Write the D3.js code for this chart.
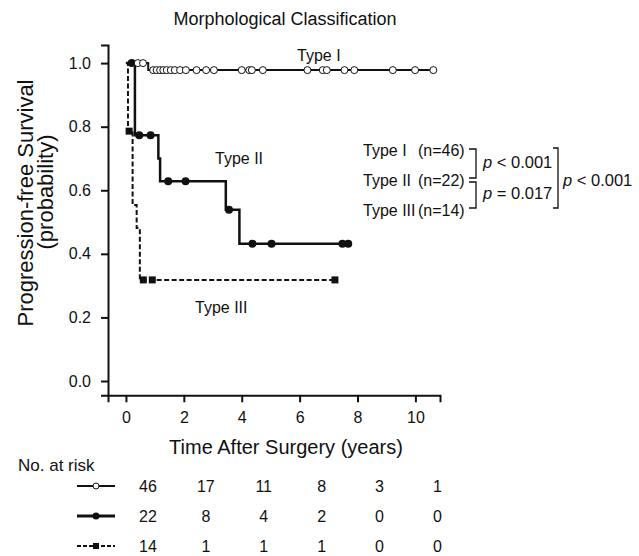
<!DOCTYPE html>
<html>
<head>
<meta charset="utf-8">
<script src="https://cdn.jsdelivr.net/npm/d3@7"></script>
<style>
  body { margin: 0; background: #fff; }
  svg text { font-family: "Liberation Sans", Arial, sans-serif; fill: #111; }
</style>
</head>
<body>
<div id="chart"></div>
<script>
// Kaplan-Meier steps
var typeITime = [0, 0.77, 10.62];
var typeISurv = [1.0, 0.978, 0.978];
var typeICensor = [0.41, 0.59, 0.94, 1.06, 1.18, 1.29, 1.41, 1.55, 1.69, 1.87, 2.07, 2.44, 2.77, 3.04,
                   4.0, 4.26, 4.35, 4.73, 6.27, 6.8, 6.94, 7.55, 7.89, 9.22, 9.99, 10.62];

var typeIITime = [0, 0.31, 1.12, 1.18, 3.45, 3.92, 7.68];
var typeIISurv = [1.0, 0.773, 0.70, 0.628, 0.539, 0.432, 0.432];
var typeIICensor = [0.2, 0.46, 0.85, 1.46, 2.06, 3.56, 4.37, 5.03, 7.48, 7.68];

var typeIIITime = [0, 0.07, 0.23, 0.37, 0.48, 7.22];
var typeIIISurv = [1.0, 0.786, 0.554, 0.481, 0.318, 0.318];
var typeIIICensor = [0.11, 0.6, 0.91, 7.22];

// number at risk table
var riskTimes = [0, 2, 4, 6, 8, 10];
var riskI = [46, 17, 11, 8, 3, 1];
var riskII = [22, 8, 4, 2, 0, 0];
var riskIII = [14, 1, 1, 1, 0, 0];

var xTicks = [0, 2, 4, 6, 8, 10];
var yTicks = [0, 0.2, 0.4, 0.6, 0.8, 1.0];

var W = 639, H = 556;

var svg = d3.select("#chart").append("svg")
  .attr("width", W).attr("height", H);

var x = d3.scaleLinear().domain([-0.62, 10.85]).range([108, 440]);
var y = d3.scaleLinear().domain([-0.045, 1.057]).range([395.3, 45]);

// axes
var xAxis = svg.append("g")
  .attr("transform", "translate(0," + y(-0.045) + ")")
  .call(d3.axisBottom(x).tickValues(xTicks).tickFormat(d3.format("d")).tickSizeOuter(0).tickSize(7).tickPadding(9));
var yAxis = svg.append("g")
  .attr("transform", "translate(" + x(-0.62) + ",0)")
  .call(d3.axisLeft(y).tickValues(yTicks).tickFormat(d3.format(".1f")).tickSizeOuter(0).tickSize(7).tickPadding(10));

[xAxis, yAxis].forEach(function(a) {
  a.select(".domain").attr("stroke", "#111").attr("stroke-width", 2);
  a.selectAll(".tick line").attr("stroke", "#111").attr("stroke-width", 2);
  a.selectAll(".tick text").attr("font-size", 16).attr("font-family", "Liberation Sans, Arial, sans-serif").attr("fill", "#111");
});

function survAt(times, surv, t) {
  var v = surv[0];
  for (var i = 0; i < times.length; i++) { if (times[i] <= t) v = surv[i]; }
  return v;
}

var line = d3.line()
  .x(function(d) { return x(d[0]); })
  .y(function(d) { return y(d[1]); })
  .curve(d3.curveStepAfter);

function pts(times, surv) { return times.map(function(t, i) { return [t, surv[i]]; }); }

// Type III dashed
svg.append("path")
  .datum(pts(typeIIITime, typeIIISurv))
  .attr("d", line)
  .attr("fill", "none").attr("stroke", "#111").attr("stroke-width", 2)
  .attr("stroke-dasharray", "5,2.5");
svg.selectAll("rect.c3")
  .data(typeIIICensor).enter().append("rect")
  .attr("class", "c3")
  .attr("x", function(d) { return x(d) - 3.5; })
  .attr("y", function(d) { return y(survAt(typeIIITime, typeIIISurv, d)) - 3.5; })
  .attr("width", 7).attr("height", 7)
  .attr("fill", "#111");

// Type II
svg.append("path")
  .datum(pts(typeIITime, typeIISurv))
  .attr("d", line)
  .attr("fill", "none").attr("stroke", "#111").attr("stroke-width", 2.5);
svg.selectAll("circle.c2")
  .data(typeIICensor).enter().append("circle")
  .attr("class", "c2")
  .attr("cx", function(d) { return x(d); })
  .attr("cy", function(d) { return y(survAt(typeIITime, typeIISurv, d)); })
  .attr("r", 4)
  .attr("fill", "#111");

// Type I
svg.append("path")
  .datum(pts(typeITime, typeISurv))
  .attr("d", line)
  .attr("fill", "none").attr("stroke", "#111").attr("stroke-width", 2);
svg.selectAll("circle.c1")
  .data(typeICensor).enter().append("circle")
  .attr("class", "c1")
  .attr("cx", function(d) { return x(d); })
  .attr("cy", function(d) { return y(survAt(typeITime, typeISurv, d)); })
  .attr("r", 3.5)
  .attr("fill", "#fff").attr("stroke", "#111").attr("stroke-width", 1);

// labels
svg.append("text").attr("x", 285).attr("y", 25).attr("text-anchor", "middle")
  .attr("font-size", 18).text("Morphological Classification");

svg.append("text").attr("transform", "translate(33,203) rotate(-90)").attr("text-anchor", "middle")
  .attr("font-size", 22).text("Progression-free Survival");
svg.append("text").attr("transform", "translate(53,192) rotate(-90)").attr("text-anchor", "middle")
  .attr("font-size", 22).text("(probability)");

svg.append("text").attr("x", 286).attr("y", 454).attr("text-anchor", "middle")
  .attr("font-size", 20).text("Time After Surgery (years)");

svg.append("text").attr("x", 297).attr("y", 61).attr("font-size", 16).text("Type I");
svg.append("text").attr("x", 215).attr("y", 164).attr("font-size", 16).text("Type II");
svg.append("text").attr("x", 195).attr("y", 313).attr("font-size", 16).text("Type III");

// legend with p-values
var legNames = ["Type I", "Type II", "Type III"];
var legN = ["(n=46)", "(n=22)", "(n=14)"];
var legY = [150, 180, 210];
legNames.forEach(function(n, i) {
  svg.append("text").attr("x", 363).attr("y", legY[i] + 6).attr("font-size", 16).text(n);
  svg.append("text").attr("x", 418).attr("y", legY[i] + 6).attr("font-size", 16).text(legN[i]);
});
var br = svg.append("g").attr("stroke", "#111").attr("stroke-width", 1.3).attr("fill", "none");
br.append("path").attr("d", "M469,149H476V178H469");
br.append("path").attr("d", "M469,182H476V208H469");
br.append("path").attr("d", "M553,148H558V208H553");

function pText(xp, yp, rest) {
  var t = svg.append("text").attr("x", xp).attr("y", yp).attr("font-size", 16.5);
  t.append("tspan").attr("font-style", "italic").text("p");
  t.append("tspan").text(rest);
}
pText(483, 168, " < 0.001");
pText(483, 199, " = 0.017");
pText(563, 186, " < 0.001");

// number at risk
svg.append("text").attr("x", 18).attr("y", 471).attr("font-size", 17).text("No. at risk");

var rx = function(t) { return x(t) + 22; };
var rows = [riskI, riskII, riskIII];
var rowY = [486, 516, 546];
rows.forEach(function(r, i) {
  svg.selectAll("text.r" + i)
    .data(r).enter().append("text")
    .attr("class", "r" + i)
    .attr("x", function(d, j) { return rx(riskTimes[j]); })
    .attr("y", rowY[i] + 6)
    .attr("text-anchor", "middle")
    .attr("font-size", 16)
    .text(function(d) { return d; });
});

// risk table symbols
var sym = svg.append("g");
sym.append("line").attr("x1", 77).attr("x2", 115).attr("y1", rowY[0]).attr("y2", rowY[0])
  .attr("stroke", "#111").attr("stroke-width", 2);
sym.append("circle").attr("cx", 96).attr("cy", rowY[0]).attr("r", 3)
  .attr("fill", "#fff").attr("stroke", "#111").attr("stroke-width", 1);
sym.append("line").attr("x1", 77).attr("x2", 115).attr("y1", rowY[1]).attr("y2", rowY[1])
  .attr("stroke", "#111").attr("stroke-width", 3);
sym.append("circle").attr("cx", 96).attr("cy", rowY[1]).attr("r", 3.5).attr("fill", "#111");
sym.append("line").attr("x1", 77).attr("x2", 115).attr("y1", rowY[2]).attr("y2", rowY[2])
  .attr("stroke", "#111").attr("stroke-width", 2).attr("stroke-dasharray", "4,2");
sym.append("rect").attr("x", 93).attr("y", rowY[2] - 3).attr("width", 6).attr("height", 6).attr("fill", "#111");
</script>
</body>
</html>
